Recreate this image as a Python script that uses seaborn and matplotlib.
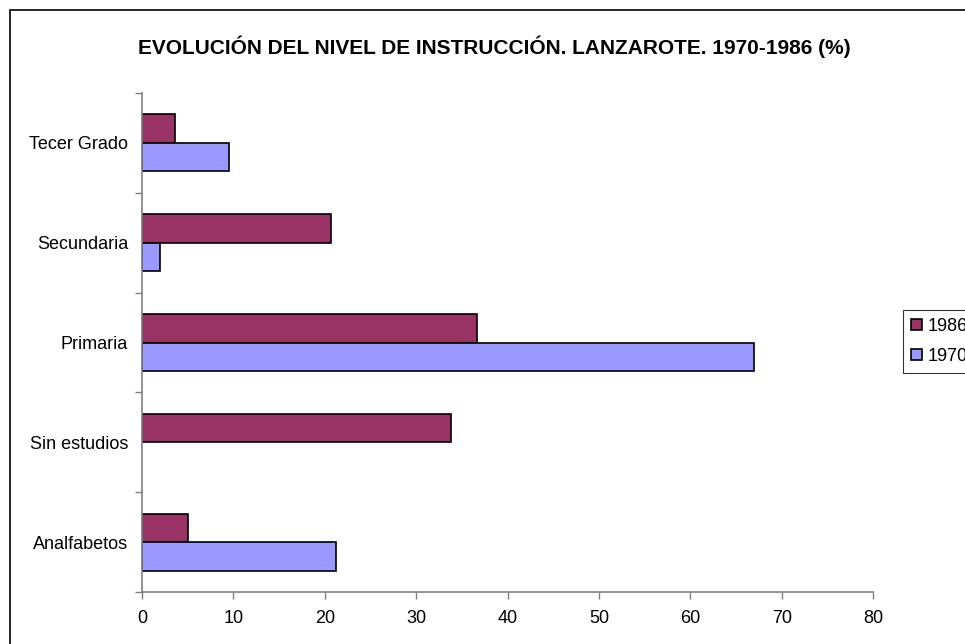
import pandas as pd
import numpy as np
import matplotlib.pyplot as plt
import seaborn as sns
from matplotlib.patches import Rectangle

# data (percent)
niveles = ['Tecer Grado', 'Secundaria', 'Primaria', 'Sin estudios', 'Analfabetos']
valores_1986 = [3.6, 20.7, 36.7, 33.8, 5.0]
valores_1970 = [9.5, 2.0, 67.0, np.nan, 21.2]
anios = ['1986', '1970']

df = pd.DataFrame({
    'nivel': niveles * 2,
    'valor': valores_1986 + valores_1970,
    'anio': ['1986'] * len(niveles) + ['1970'] * len(niveles),
})

sns.set_style('white')
plt.rcParams['font.family'] = ['Liberation Sans', 'DejaVu Sans']
plt.rcParams['text.color'] = 'black'
plt.rcParams['xtick.color'] = 'black'
plt.rcParams['ytick.color'] = 'black'

fig = plt.figure(figsize=(9.65, 6.44), dpi=100)
ax = fig.add_axes([142 / 965, 1 - 592 / 644, (873 - 142) / 965, (592 - 93) / 644])

sns.barplot(data=df, x='valor', y='nivel', hue='anio', order=niveles, hue_order=anios,
            palette={'1986': '#993366', '1970': '#9999FF'}, orient='h',
            width=0.57, gap=0, edgecolor='black', linewidth=1.2, saturation=1,
            errorbar=None, ax=ax, legend=True)

ax.set_xlim(0, 80)
ax.set_xticks(np.arange(0, 81, 10))
ax.set_ylim(len(niveles) - 0.5, -0.5)
ax.set_yticks(np.arange(-0.5, len(niveles), 1), minor=False)
ax.set_yticklabels([])
ax.set_yticks(np.arange(len(niveles)), minor=True)
ax.set_yticklabels(niveles, minor=True)
ax.tick_params(axis='y', which='major', length=5, width=1, color='#808080', direction='out', left=True)
ax.tick_params(axis='y', which='minor', length=0, pad=10, labelsize=13)
ax.tick_params(axis='x', length=5, width=1, color='#808080', direction='out', bottom=True,
               labelsize=13, pad=8)
ax.set_xlabel('')
ax.set_ylabel('')

for s in ['top', 'right']:
    ax.spines[s].set_visible(False)
for s in ['left', 'bottom']:
    ax.spines[s].set_color('#808080')
    ax.spines[s].set_linewidth(1.2)

handles, labels = ax.get_legend_handles_labels()
ax.legend(handles, labels, loc='upper left', bbox_to_anchor=(903 / 965, 1 - 310 / 644),
          bbox_transform=fig.transFigure, frameon=True, fancybox=False, edgecolor='black',
          fontsize=13, handlelength=0.6, handleheight=0.6, handletextpad=0.3,
          borderpad=0.45, labelspacing=0.7, borderaxespad=0)
ax.get_legend().get_frame().set_linewidth(0.8)

fig.text(494 / 965, 1 - 47 / 644, 'EVOLUCIÓN DEL NIVEL DE INSTRUCCIÓN. LANZAROTE. 1970-1986 (%)',
         ha='center', va='center', fontsize=15, fontweight='bold')

fig.patches.append(Rectangle((10 / 965, -0.01), 1.0, 1 - 10 / 644 + 0.01, transform=fig.transFigure,
                             fill=False, edgecolor='black', linewidth=1.2))

fig.savefig('out.png', dpi=100)
